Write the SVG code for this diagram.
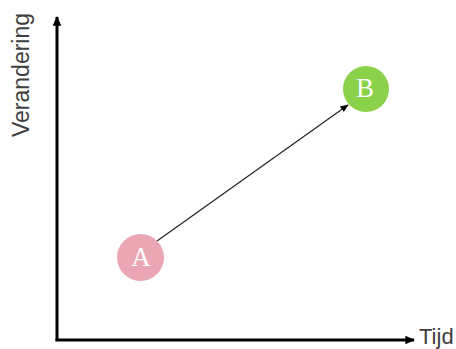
<svg xmlns="http://www.w3.org/2000/svg" width="456" height="349" viewBox="0 0 456 349">
<defs>
<marker id="ah" viewBox="0 0 10 10" refX="9" refY="5" markerWidth="3.2" markerHeight="3.2" orient="auto" markerUnits="strokeWidth"><path d="M0,0.5 L10,5 L0,9.5 z" fill="#000"/></marker>
<marker id="ah2" viewBox="0 0 10 10" refX="9" refY="5" markerWidth="7" markerHeight="7" orient="auto" markerUnits="strokeWidth"><path d="M0,1 L10,5 L0,9 z" fill="#000"/></marker>
</defs>
<style>
.axis{stroke:#000;stroke-width:3;fill:none}
.lbl{font-family:"Liberation Sans",Arial,sans-serif;font-size:23px;fill:#404040}
.node{font-family:"Liberation Serif","Times New Roman",serif;font-size:27px;fill:#fff;text-anchor:middle}
</style>
<g id="axes">
<path class="axis" d="M57,341 L57,17" marker-end="url(#ah)"/>
<path class="axis" d="M55.5,340 L414,340" marker-end="url(#ah)"/>
<text class="lbl" transform="translate(29,75) rotate(-90)" text-anchor="middle">Verandering</text>
<text class="lbl" x="419" y="344" style="font-size:22px">Tijd</text>
</g>
<g id="connectors">
<line x1="157" y1="241" x2="348" y2="105" stroke="#222" stroke-width="1.2" marker-end="url(#ah2)"/>
</g>
<g id="nodeA">
<circle cx="140.5" cy="257.5" r="23.5" fill="#EBA6B4"/>
<text class="node" x="141" y="266">A</text>
</g>
<g id="nodeB">
<circle cx="366" cy="89" r="23" fill="#8CD14A"/>
<text class="node" x="365" y="97">B</text>
</g>
</svg>
